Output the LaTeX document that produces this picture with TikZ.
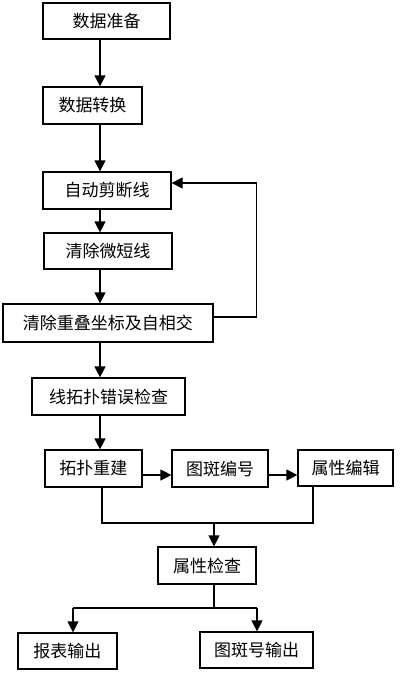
\documentclass[tikz,border=0pt]{standalone}
\usepackage{fontspec}
\newfontfamily\cjk{Noto Sans CJK SC}
\usetikzlibrary{arrows.meta}
\begin{document}
\begin{tikzpicture}[x=1pt,y=-1pt,line width=1.2pt,
    box/.style={draw,line width=1.2pt,inner sep=0pt,minimum height=37pt,
      font=\cjk\fontsize{17}{17}\selectfont},
    arr/.style={-{Triangle[length=11pt,width=11pt]}}]
  \useasboundingbox (0,0) rectangle (400,673);
  \node[box,minimum width=127pt,minimum height=36pt] (prep) at (106.5,21) {数据准备};
  \node[box,minimum width=99pt] (conv) at (92.5,105.5) {数据转换};
  \node[box,minimum width=128pt] (cut) at (107,190.5) {自动剪断线};
  \node[box,minimum width=128pt,minimum height=36pt] (short) at (108,251) {清除微短线};
  \node[box,minimum width=210pt,minimum height=38pt] (overlap) at (108,323)
    {清除重叠坐标及自相交};
  \node[box,minimum width=153pt] (topochk) at (108.5,396.5) {线拓扑错误检查};
  \node[box,minimum width=97pt] (rebuild) at (93.5,468.5) {拓扑重建};
  \node[box,minimum width=96pt] (number) at (220,468.5) {图斑编号};
  \node[box,minimum width=95pt,minimum height=36pt] (attredit) at (345.5,468) {属性编辑};
  \node[box,minimum width=98pt] (attrchk) at (207,565.5) {属性检查};
  \node[box,minimum width=99pt,minimum height=36pt] (report) at (67.5,651) {报表输出};
  \node[box,minimum width=113pt,minimum height=36pt] (numout) at (256.5,650) {图斑号输出};
  % main column
  \coordinate (col) at (100,0);
  \foreach \a/\b in {prep/conv,conv/cut,cut/short,short/overlap,overlap/topochk,
    topochk/rebuild}
    \draw[arr] (\a.south -| col) -- (\b.north -| col);
  % loop back
  \draw[arr] ([yshift=6pt]overlap.east) -- ++(43,0) |- ([yshift=7.5pt]cut.east);
  \draw[arr] ([yshift=-6.5pt]rebuild.east) -- ([yshift=-6.5pt]rebuild.east -| number.west);
  \draw[arr] ([yshift=-6.5pt]number.east) -- ([yshift=-6.5pt]number.east -| attredit.west);
  % merge and split
  \coordinate (jl) at (102,523);
  \coordinate (jr) at (313,523);
  \coordinate (jm) at (214,523);
  \draw (rebuild.south -| jl) -- (jl) -- (jr) -- (attredit.south -| jr);
  \draw[arr] (jm) -- (attrchk.north -| jm);
  \coordinate (js) at (214,608);
  \coordinate (ja) at (73,608);
  \coordinate (jb) at (257,608);
  \draw (attrchk.south -| js) -- (js);
  \draw (ja) -- (jb);
  \draw[arr] (ja) -- (report.north -| ja);
  \draw[arr] (jb) -- (numout.north -| jb);
\end{tikzpicture}
\end{document}
